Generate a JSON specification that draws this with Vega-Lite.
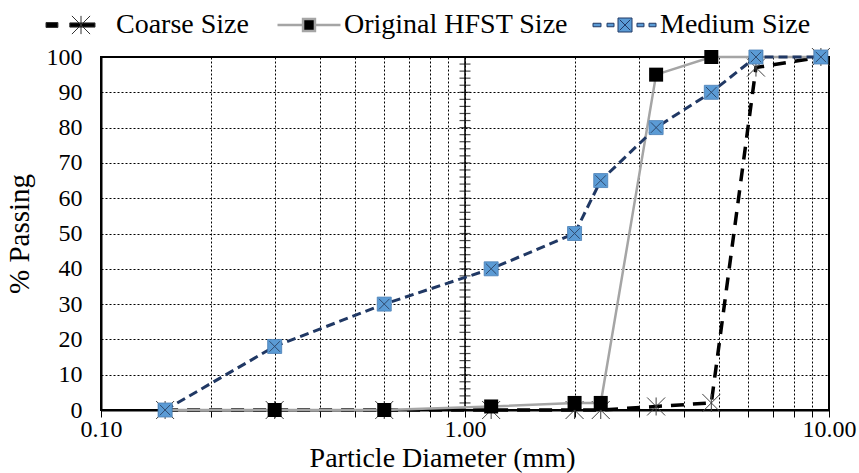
{
  "$schema": "https://vega.github.io/schema/vega-lite/v6.json",
  "width": 728,
  "height": 353,
  "autosize": "none",
  "padding": {"left": 101, "top": 57, "right": 30, "bottom": 63},
  "background": "white",
  "config": {
    "view": {"stroke": "#000", "strokeWidth": 2},
    "font": "Liberation Serif",
    "axisY": {"labelOverlap": false, "labelFlush": false},
    "axisX": {"labelOverlap": false, "labelFlush": false}
  },
  "datasets": {
    "grad": [
      {"size": 0.15, "series": "Coarse Size", "passing": 0},
      {"size": 0.3, "series": "Coarse Size", "passing": 0},
      {"size": 0.6, "series": "Coarse Size", "passing": 0},
      {"size": 1.18, "series": "Coarse Size", "passing": 0},
      {"size": 2.0, "series": "Coarse Size", "passing": 0},
      {"size": 2.36, "series": "Coarse Size", "passing": 0},
      {"size": 3.35, "series": "Coarse Size", "passing": 1},
      {"size": 4.75, "series": "Coarse Size", "passing": 2},
      {"size": 6.3, "series": "Coarse Size", "passing": 97},
      {"size": 9.5, "series": "Coarse Size", "passing": 100},
      {"size": 0.15, "series": "Original HFST Size", "passing": 0},
      {"size": 0.3, "series": "Original HFST Size", "passing": 0},
      {"size": 0.6, "series": "Original HFST Size", "passing": 0},
      {"size": 1.18, "series": "Original HFST Size", "passing": 1},
      {"size": 2.0, "series": "Original HFST Size", "passing": 2},
      {"size": 2.36, "series": "Original HFST Size", "passing": 2},
      {"size": 3.35, "series": "Original HFST Size", "passing": 95},
      {"size": 4.75, "series": "Original HFST Size", "passing": 100},
      {"size": 6.3, "series": "Original HFST Size", "passing": 100},
      {"size": 9.5, "series": "Original HFST Size", "passing": 100},
      {"size": 0.15, "series": "Medium Size", "passing": 0},
      {"size": 0.3, "series": "Medium Size", "passing": 18},
      {"size": 0.6, "series": "Medium Size", "passing": 30},
      {"size": 1.18, "series": "Medium Size", "passing": 40},
      {"size": 2.0, "series": "Medium Size", "passing": 50},
      {"size": 2.36, "series": "Medium Size", "passing": 65},
      {"size": 3.35, "series": "Medium Size", "passing": 80},
      {"size": 4.75, "series": "Medium Size", "passing": 90},
      {"size": 6.3, "series": "Medium Size", "passing": 100},
      {"size": 9.5, "series": "Medium Size", "passing": 100}
    ],
    "yticks": [
      {"p": 0}, {"p": 2}, {"p": 4}, {"p": 6}, {"p": 8}, {"p": 10}, {"p": 12}, {"p": 14}, {"p": 16}, {"p": 18},
      {"p": 20}, {"p": 22}, {"p": 24}, {"p": 26}, {"p": 28}, {"p": 30}, {"p": 32}, {"p": 34}, {"p": 36}, {"p": 38},
      {"p": 40}, {"p": 42}, {"p": 44}, {"p": 46}, {"p": 48}, {"p": 50}, {"p": 52}, {"p": 54}, {"p": 56}, {"p": 58},
      {"p": 60}, {"p": 62}, {"p": 64}, {"p": 66}, {"p": 68}, {"p": 70}, {"p": 72}, {"p": 74}, {"p": 76}, {"p": 78},
      {"p": 80}, {"p": 82}, {"p": 84}, {"p": 86}, {"p": 88}, {"p": 90}, {"p": 92}, {"p": 94}, {"p": 96}, {"p": 98},
      {"p": 100}
    ]
  },
  "data": {"name": "grad"},
  "layer": [
    {
      "mark": {"type": "line", "color": "#000", "strokeWidth": 3.5, "strokeDash": [13, 9]},
      "transform": [{"filter": "datum.series == 'Coarse Size'"}],
      "encoding": {
        "x": {
          "field": "size", "type": "quantitative",
          "scale": {"type": "log", "domain": [0.1, 10], "nice": false},
          "axis": {
            "values": [0.1, 0.2, 0.3, 0.4, 0.5, 0.6, 0.7, 0.8, 0.9, 1, 2, 3, 4, 5, 6, 7, 8, 9, 10],
            "labelExpr": "(datum.value == 0.1 || datum.value == 1 || datum.value == 10) ? format(datum.value, '.2f') : ''",
            "grid": true, "gridColor": "#000", "gridDash": [2, 2], "gridWidth": 1, "gridOpacity": 1,
            "domainColor": "#000", "domainWidth": 2,
            "tickColor": "#000", "tickSize": 7, "tickWidth": 1,
            "labelFont": "Liberation Serif", "labelFontSize": 24, "labelColor": "#000",
            "labelPadding": 0, "labelFlush": false, "labelOverlap": false,
            "title": "Particle Diameter (mm)",
            "titleFont": "Liberation Serif", "titleFontSize": 28, "titleFontWeight": "normal",
            "titleColor": "#000", "titlePadding": 3, "titleX": 341
          }
        },
        "y": {
          "field": "passing", "type": "quantitative",
          "scale": {"domain": [0, 100], "nice": false},
          "axis": {
            "values": [0, 10, 20, 30, 40, 50, 60, 70, 80, 90, 100],
            "tickCount": 11,
            "labelExpr": "format(datum.value, 'd')",
            "grid": true, "gridColor": "#000", "gridDash": [2, 2], "gridWidth": 1, "gridOpacity": 1,
            "domainColor": "#000", "domainWidth": 2,
            "tickSize": 0, "tickOpacity": 0, "labelPadding": 19, "labelOverlap": false, "labelFlush": false,
            "labelFont": "Liberation Serif", "labelFontSize": 24, "labelColor": "#000",
            "title": "% Passing",
            "titleFont": "Liberation Serif", "titleFontSize": 29, "titleFontWeight": "normal",
            "titleColor": "#000", "titlePadding": 12
          }
        }
      }
    },
    {
      "data": {"values": [{}]},
      "mark": {"type": "rule", "color": "#000", "strokeWidth": 1.5},
      "encoding": {"x": {"datum": 1, "type": "quantitative"}}
    },
    {
      "data": {"name": "yticks"},
      "mark": {"type": "tick", "orient": "horizontal", "color": "#000", "size": 11, "thickness": 1.2},
      "encoding": {
        "x": {"datum": 1, "type": "quantitative"},
        "y": {"field": "p", "type": "quantitative"}
      }
    },
    {
      "mark": {"type": "point", "shape": "M-1,-1L1,1M-1,1L1,-1M0,-1L0,1", "size": 324, "filled": false, "stroke": "#404040", "strokeWidth": 1, "opacity": 1},
      "transform": [{"filter": "datum.series == 'Coarse Size'"}],
      "encoding": {
        "x": {"field": "size", "type": "quantitative"},
        "y": {"field": "passing", "type": "quantitative"}
      }
    },
    {
      "mark": {"type": "line", "color": "#A5A5A5", "strokeWidth": 2.5},
      "transform": [{"filter": "datum.series == 'Original HFST Size'"}],
      "encoding": {
        "x": {"field": "size", "type": "quantitative"},
        "y": {"field": "passing", "type": "quantitative"}
      }
    },
    {
      "mark": {"type": "point", "shape": "square", "size": 196, "filled": true, "color": "#000", "opacity": 1},
      "transform": [{"filter": "datum.series == 'Original HFST Size'"}],
      "encoding": {
        "x": {"field": "size", "type": "quantitative"},
        "y": {"field": "passing", "type": "quantitative"}
      }
    },
    {
      "mark": {"type": "line", "color": "#203864", "strokeWidth": 3, "strokeDash": [9, 5]},
      "transform": [{"filter": "datum.series == 'Medium Size'"}],
      "encoding": {
        "x": {"field": "size", "type": "quantitative"},
        "y": {"field": "passing", "type": "quantitative"}
      }
    },
    {
      "mark": {"type": "point", "shape": "square", "size": 196, "filled": true, "fill": "#5B9BD5", "stroke": "#4A7FB5", "strokeWidth": 0.8, "opacity": 1},
      "transform": [{"filter": "datum.series == 'Medium Size'"}],
      "encoding": {
        "x": {"field": "size", "type": "quantitative"},
        "y": {"field": "passing", "type": "quantitative"}
      }
    },
    {
      "mark": {"type": "point", "shape": "M-1,-1L1,1M-1,1L1,-1", "size": 110, "filled": false, "stroke": "#2F4A6E", "strokeWidth": 1, "opacity": 1},
      "transform": [{"filter": "datum.series == 'Medium Size'"}],
      "encoding": {
        "x": {"field": "size", "type": "quantitative"},
        "y": {"field": "passing", "type": "quantitative"}
      }
    },
    {
      "mark": {"type": "point", "opacity": 0, "filled": true, "size": 196},
      "encoding": {
        "x": {"field": "size", "type": "quantitative"},
        "y": {"field": "passing", "type": "quantitative"},
        "shape": {
          "field": "series", "type": "nominal",
          "scale": {
            "domain": ["Coarse Size", "Original HFST Size", "Medium Size"],
            "range": [
              "M-5,-0.35L-3.3,-0.35L-3.3,0.35L-5,0.35ZM-1.6,-0.3L2,-0.3L2,0.3L-1.6,0.3ZM-1.3,-1.3L1.3,1.3M-1.3,1.3L1.3,-1.3M0,-1.3L0,1.3",
              "M-4.5,0L-1,0M1,0L4.5,0M-0.85,-0.85L0.85,-0.85L0.85,0.85L-0.85,0.85Z",
              "M-4.57,-0.25L-3.43,-0.25L-3.43,0.25L-4.57,0.25ZM-2.57,-0.25L-1.57,-0.25L-1.57,0.25L-2.57,0.25ZM1.71,-0.25L2.71,-0.25L2.71,0.25L1.71,0.25ZM3.43,-0.25L4.43,-0.25L4.43,0.25L3.43,0.25ZM-1,-1L1,-1L1,1L-1,1ZM-0.75,-0.75L0.75,0.75M-0.75,0.75L0.75,-0.75"
            ]
          },
          "legend": {
            "title": null, "orient": "none", "direction": "horizontal", "columns": 3,
            "legendX": -34, "legendY": -46,
            "symbolSize": 196, "symbolOpacity": 1,
            "labelFont": "Liberation Serif", "labelFontSize": 28, "labelColor": "#000",
            "labelOffset": 21, "columnPadding": 23, "labelLimit": 400
          }
        },
        "fill": {
          "field": "series", "type": "nominal",
          "scale": {
            "domain": ["Coarse Size", "Original HFST Size", "Medium Size"],
            "range": ["#000000", "#000000", "#5B9BD5"]
          }
        },
        "stroke": {
          "field": "series", "type": "nominal",
          "scale": {
            "domain": ["Coarse Size", "Original HFST Size", "Medium Size"],
            "range": ["#303030", "#A5A5A5", "#203864"]
          }
        },
        "strokeWidth": {
          "field": "series", "type": "nominal",
          "scale": {
            "type": "ordinal",
            "domain": ["Coarse Size", "Original HFST Size", "Medium Size"],
            "range": [1, 2.5, 1]
          }
        }
      }
    }
  ]
}
